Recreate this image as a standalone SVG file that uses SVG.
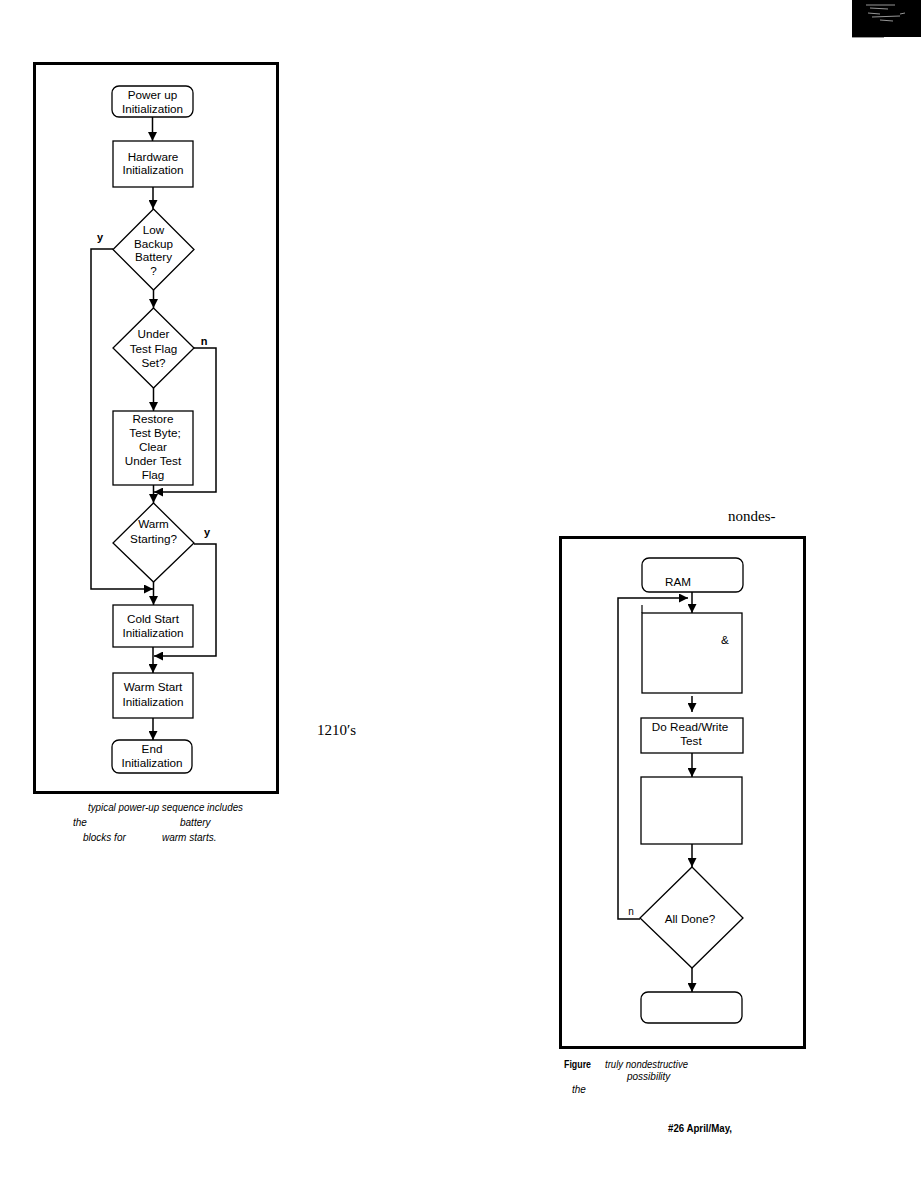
<svg xmlns="http://www.w3.org/2000/svg" width="921" height="1190" viewBox="0 0 921 1190">
<style>
.frame{fill:none;stroke:#000;stroke-width:3}
.box{fill:#fff;stroke:#000;stroke-width:1.3}
.ln{fill:none;stroke:#000;stroke-width:1.5}
.t{font-family:"Liberation Sans",Arial,sans-serif;font-size:11.7px;fill:#000;text-anchor:middle}
.lbl{font-family:"Liberation Sans",Arial,sans-serif;font-size:11px;font-weight:bold;fill:#000;text-anchor:middle}
.cap{font-family:"Liberation Sans",Arial,sans-serif;font-size:10px;font-style:italic;fill:#000}
.capb{font-family:"Liberation Sans",Arial,sans-serif;font-size:10px;font-weight:bold;fill:#000}
.ser{font-family:"Liberation Serif","Times New Roman",serif;font-size:15px;fill:#000}
</style>
<defs>
<marker id="ah2" viewBox="0 0 10 10" refX="10" refY="5" markerWidth="9" markerHeight="9" markerUnits="userSpaceOnUse" orient="auto">
<path d="M0,0 L10,5 L0,10 Z" fill="#000"/>
</marker>
</defs>
<rect width="921" height="1190" fill="#fff"/>

<g id="corner">
<rect x="852" y="0" width="69" height="37" fill="#000"/>
<path d="M866,5 L895,5 M870,8 L888,9 M868,13 L880,14 M872,17 L900,16 M900,14 L905,13 M880,20 L893,21" stroke="#bbb" stroke-width="0.8" fill="none"/>
<line x1="852" y1="37.5" x2="884" y2="37.5" stroke="#999" stroke-width="1"/>
</g>

<rect class="frame" x="34.5" y="63.5" width="243" height="729"/>

<g id="left-connectors">
<line class="ln" x1="152.5" y1="117" x2="152.5" y2="141" marker-end="url(#ah2)"/>
<line class="ln" x1="153" y1="187" x2="153" y2="209" marker-end="url(#ah2)"/>
<line class="ln" x1="153.5" y1="290" x2="153.5" y2="308" marker-end="url(#ah2)"/>
<line class="ln" x1="153.5" y1="388" x2="153.5" y2="411" marker-end="url(#ah2)"/>
<line class="ln" x1="153.5" y1="485" x2="153.5" y2="503" marker-end="url(#ah2)"/>
<polyline class="ln" points="113,249 91,249 91,589 153,589" marker-end="url(#ah2)"/>
<polyline class="ln" points="194,348 216,348 216,492 154,492" marker-end="url(#ah2)"/>
<line class="ln" x1="153.5" y1="582" x2="153.5" y2="605" marker-end="url(#ah2)"/>
<polyline class="ln" points="194,544 216,544 216,656 154,656" marker-end="url(#ah2)"/>
<line class="ln" x1="153" y1="647" x2="153" y2="673" marker-end="url(#ah2)"/>
<line class="ln" x1="153" y1="718" x2="153" y2="740" marker-end="url(#ah2)"/>
<text class="lbl" x="100" y="241">y</text>
<text class="lbl" x="204" y="345">n</text>
<text class="lbl" x="207" y="536">y</text>
</g>

<g id="n-powerup">
<rect class="box" x="112" y="86" width="81" height="31" rx="7"/>
<text class="t" x="152.5" y="99">Power up</text>
<text class="t" x="152.5" y="112.5">Initialization</text>
</g>
<g id="n-hw">
<rect class="box" x="113" y="141" width="80" height="46"/>
<text class="t" x="153" y="161">Hardware</text>
<text class="t" x="153" y="174">Initialization</text>
</g>
<g id="n-lowbatt">
<polygon class="box" points="153.5,209 194,249.5 153.5,290 113,249.5"/>
<text class="t" x="153.5" y="234">Low</text>
<text class="t" x="153.5" y="247.5">Backup</text>
<text class="t" x="153.5" y="261">Battery</text>
<text class="t" x="153.5" y="275">?</text>
</g>
<g id="n-undertest">
<polygon class="box" points="153.5,308 194,348 153.5,388 113,348"/>
<text class="t" x="153.5" y="338">Under</text>
<text class="t" x="153.5" y="353">Test Flag</text>
<text class="t" x="153.5" y="367">Set?</text>
</g>
<g id="n-restore">
<rect class="box" x="113" y="411" width="80" height="74"/>
<text class="t" x="153" y="423">Restore</text>
<text class="t" x="155" y="437">Test Byte;</text>
<text class="t" x="153" y="451">Clear</text>
<text class="t" x="153" y="465">Under Test</text>
<text class="t" x="153" y="479">Flag</text>
</g>
<g id="n-warmq">
<polygon class="box" points="153.5,503 194,543 153.5,582 113,543"/>
<text class="t" x="153.5" y="528">Warm</text>
<text class="t" x="153.5" y="543">Starting?</text>
</g>
<g id="n-cold">
<rect class="box" x="113" y="605" width="80" height="42"/>
<text class="t" x="153" y="623">Cold Start</text>
<text class="t" x="153" y="637">Initialization</text>
</g>
<g id="n-warm">
<rect class="box" x="113" y="673" width="80" height="45"/>
<text class="t" x="153" y="691">Warm Start</text>
<text class="t" x="153" y="706">Initialization</text>
</g>
<g id="n-end">
<rect class="box" x="112" y="740" width="80" height="33" rx="7"/>
<text class="t" x="152" y="753">End</text>
<text class="t" x="152" y="767">Initialization</text>
</g>

<g id="left-caption">
<text class="cap" x="88" y="811" textLength="155" lengthAdjust="spacingAndGlyphs">typical power-up sequence includes</text>
<text class="cap" x="73" y="826">the</text>
<text class="cap" x="180" y="826">battery</text>
<text class="cap" x="83" y="841">blocks for</text>
<text class="cap" x="162" y="841">warm starts.</text>
</g>

<g id="body-text">
<text class="ser" x="317" y="735">1210′s</text>
<text class="ser" x="728" y="521">nondes-</text>
</g>

<rect class="frame" x="560.5" y="537.5" width="244" height="510"/>

<g id="right-connectors">
<line class="ln" x1="692" y1="592" x2="692" y2="613" marker-end="url(#ah2)"/>
<polyline class="ln" points="640,919 618,919 618,598 688,598" marker-end="url(#ah2)"/>
<line class="ln" x1="692" y1="696" x2="692" y2="712" marker-end="url(#ah2)"/>
<line class="ln" x1="692" y1="753" x2="692" y2="777" marker-end="url(#ah2)"/>
<line class="ln" x1="692" y1="844" x2="692" y2="867" marker-end="url(#ah2)"/>
<line class="ln" x1="692" y1="968" x2="692" y2="992" marker-end="url(#ah2)"/>
<text class="t" x="631" y="915" style="font-size:10px">n</text>
</g>

<g id="n-ram">
<rect class="box" x="642" y="558" width="101" height="34" rx="7"/>
<text class="t" x="678" y="586">RAM</text>
</g>
<g id="n-step2">
<rect class="box" x="642" y="613" width="100" height="80"/>
<line class="ln" x1="642" y1="605" x2="642" y2="613" style="stroke-width:1.2"/>
<text class="t" x="725" y="644">&amp;</text>
</g>
<g id="n-rw">
<rect class="box" x="641" y="718" width="102" height="35"/>
<text class="t" x="690" y="731">Do Read/Write</text>
<text class="t" x="691" y="745">Test</text>
</g>
<g id="n-step4">
<rect class="box" x="641" y="777" width="101" height="67"/>
</g>
<g id="n-alldone">
<polygon class="box" points="692,867 743,918 692,968 640,918"/>
<text class="t" x="690" y="923">All Done?</text>
</g>
<g id="n-end2">
<rect class="box" x="641" y="992" width="101" height="31" rx="7"/>
</g>

<g id="right-caption">
<text class="capb" x="564" y="1068" textLength="27" lengthAdjust="spacingAndGlyphs">Figure</text>
<text class="cap" x="605" y="1068" textLength="83" lengthAdjust="spacingAndGlyphs">truly nondestructive</text>
<text class="cap" x="627" y="1080">possibility</text>
<text class="cap" x="572" y="1093">the</text>
<text class="capb" x="668" y="1132" textLength="64" lengthAdjust="spacingAndGlyphs">#26 April/May,</text>
</g>
</svg>
